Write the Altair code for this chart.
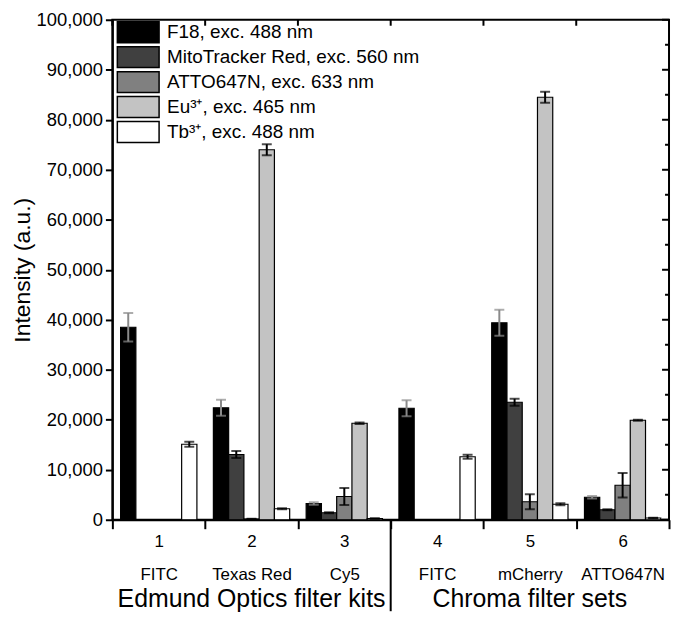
import altair as alt
import pandas as pd

FONT = "Liberation Sans"

# ---- data ----
numbers = ["1", "2", "3", "4", "5", "6"]
filters = ["FITC", "Texas Red", "Cy5", "FITC", "mCherry", "ATTO647N"]
group_names = ["Edmund Optics filter kits", "Chroma filter sets"]
group_centre_index = [1, 4]

series = [
    "F18, exc. 488 nm",
    "MitoTracker Red, exc. 560 nm",
    "ATTO647N, exc. 633 nm",
    "Eu³⁺, exc. 465 nm",
    "Tb³⁺, exc. 488 nm",
]
colors = ["#000000", "#404040", "#808080", "#c3c3c3", "#ffffff"]

f18 = [38500, 22400, 3250, 22300, 39400, 4500]
f18_err = [2850, 1600, 250, 1600, 2600, 250]
mito = [None, 13050, 1400, None, 23500, 2000]
mito_err = [None, 700, 100, None, 700, 100]
atto = [None, 150, 4650, None, 3600, 6900]
atto_err = [None, 50, 1700, None, 1500, 2450]
eu = [None, 74000, 19300, None, 84500, 19900]
eu_err = [None, 1100, 150, None, 1100, 100]
tb = [15100, 2200, 250, 12600, 3100, 350]
tb_err = [500, 100, 50, 400, 200, 50]

major_ticks = list(range(0, 100001, 10000))
minor_ticks = list(range(5000, 100000, 10000))

# ---- table ----
cats = [f"{n}|{f}" for n, f in zip(numbers, filters)]
vals = [f18, mito, atto, eu, tb]
errs = [f18_err, mito_err, atto_err, eu_err, tb_err]
rows = []
for s, v, e in zip(series, vals, errs):
    for c, vv, ee in zip(cats, v, e):
        rows.append({"cat": c, "series": s, "value": vv, "err": ee})
df = pd.DataFrame(rows)

W, H = 560, 503

x_enc = alt.X(
    "cat:N",
    sort=cats,
    scale=alt.Scale(paddingInner=0, paddingOuter=0),
    axis=alt.Axis(
        title=None,
        labelExpr="split(datum.label, '|')",
        tickBand="extent",
        tickSize=9,
        tickWidth=2,
        tickColor="black",
        domainWidth=2,
        domainColor="black",
        labelAngle=0,
        labelFontSize=17,
        labelLineHeight=33,
        labelPadding=5,
        labelColor="black",
        labelFont=FONT,
        labelBaseline="top",
    ),
)
xo_enc = alt.XOffset("series:N", sort=series, scale=alt.Scale(paddingOuter=0.54, paddingInner=0))

y_enc = alt.Y(
    "value:Q",
    scale=alt.Scale(domain=[0, 100000], nice=False),
    axis=alt.Axis(
        title="Intensity (a.u.)",
        titleFont=FONT,
        titleFontSize=23,
        titleFontWeight="normal",
        titleColor="black",
        titlePadding=1,
        values=major_ticks + minor_ticks,
        labelExpr="datum.value % 10000 == 0 ? format(datum.value, ',') : ''",
        labelOverlap=False,
        labelFontSize=18.5,
        labelFont=FONT,
        labelColor="black",
        labelPadding=3,
        tickSize={"condition": {"test": "datum.value % 10000 === 0", "value": 7}, "value": 4},
        tickWidth=2,
        tickColor="black",
        domainWidth=2,
        domainColor="black",
        grid=False,
    ),
)

base = alt.Chart(df)

bars = base.mark_bar(stroke="black", strokeWidth=1.2).encode(
    x=x_enc,
    xOffset=xo_enc,
    y=y_enc,
    color=alt.Color(
        "series:N",
        sort=series,
        scale=alt.Scale(domain=series, range=colors),
        legend=alt.Legend(
            title=None,
            orient="none",
            legendX=14.5,
            legendY=1,
            symbolType="M-2,-1H2V1H-2Z",
            symbolSize=441,
            symbolStrokeColor="black",
            symbolStrokeWidth=1.5,
            symbolOpacity=1,
            labelFontSize=19,
            labelFont=FONT,
            labelColor="black",
            labelOffset=17.5,
            labelLimit=400,
            rowPadding=-1.9,
            padding=0,
        ),
    ),
)

err_color = alt.condition(alt.datum.series == series[0], alt.value("#8a8a8a"), alt.value("black"))
err_base = base.transform_filter("isValid(datum.err)").transform_calculate(
    lo="datum.value - datum.err", hi="datum.value + datum.err"
)
err_rule = err_base.mark_rule(strokeWidth=2).encode(
    x=alt.X("cat:N", sort=cats), xOffset=xo_enc, y=alt.Y("lo:Q"), y2="hi:Q", color=err_color
)
cap_hi = err_base.mark_tick(size=10, thickness=2).encode(
    x=alt.X("cat:N", sort=cats), xOffset=xo_enc, y=alt.Y("hi:Q"), color=err_color
)
cap_lo = err_base.mark_tick(size=10, thickness=2).encode(
    x=alt.X("cat:N", sort=cats), xOffset=xo_enc, y=alt.Y("lo:Q"), color=err_color
)

# inward ticks on the right frame
right_major = alt.Chart(pd.DataFrame({"v": major_ticks})).mark_rule(strokeWidth=2, color="black").encode(
    y=alt.Y("v:Q"), x=alt.value(W - 7), x2=alt.value(W)
)
right_minor = alt.Chart(pd.DataFrame({"v": minor_ticks})).mark_rule(strokeWidth=2, color="black").encode(
    y=alt.Y("v:Q"), x=alt.value(W - 4), x2=alt.value(W)
)
# inward ticks on the top frame at category boundaries
top_ticks = alt.Chart(pd.DataFrame({"cat": cats})).mark_rule(strokeWidth=2, color="black").encode(
    x=alt.X("cat:N", sort=cats, bandPosition=0), y=alt.value(0), y2=alt.value(6)
)
# divider between the two filter groups
divider = alt.Chart(pd.DataFrame({"cat": [cats[3]]})).mark_rule(strokeWidth=2, color="black").encode(
    x=alt.X("cat:N", sort=cats, bandPosition=0), y=alt.value(H), y2=alt.value(H + 92)
)
group_labels = alt.Chart(
    pd.DataFrame({"cat": [cats[i] for i in group_centre_index], "name": group_names})
).mark_text(font=FONT, fontSize=25, color="black", baseline="middle").encode(
    x=alt.X("cat:N", sort=cats), y=alt.value(H + 80), text="name:N"
)

chart = (
    alt.layer(bars, err_rule, cap_hi, cap_lo, right_major, right_minor, top_ticks, divider, group_labels)
    .properties(
        width=W,
        height=H,
        autosize=alt.AutoSizeParams(type="none"),
        padding={"left": 105, "top": 10, "right": 2, "bottom": 97},
    )
    .configure_view(stroke="black", strokeWidth=2)
    .configure_axis(grid=False)
)

chart.save("out.html", embed_options={"renderer": "svg", "actions": False})
